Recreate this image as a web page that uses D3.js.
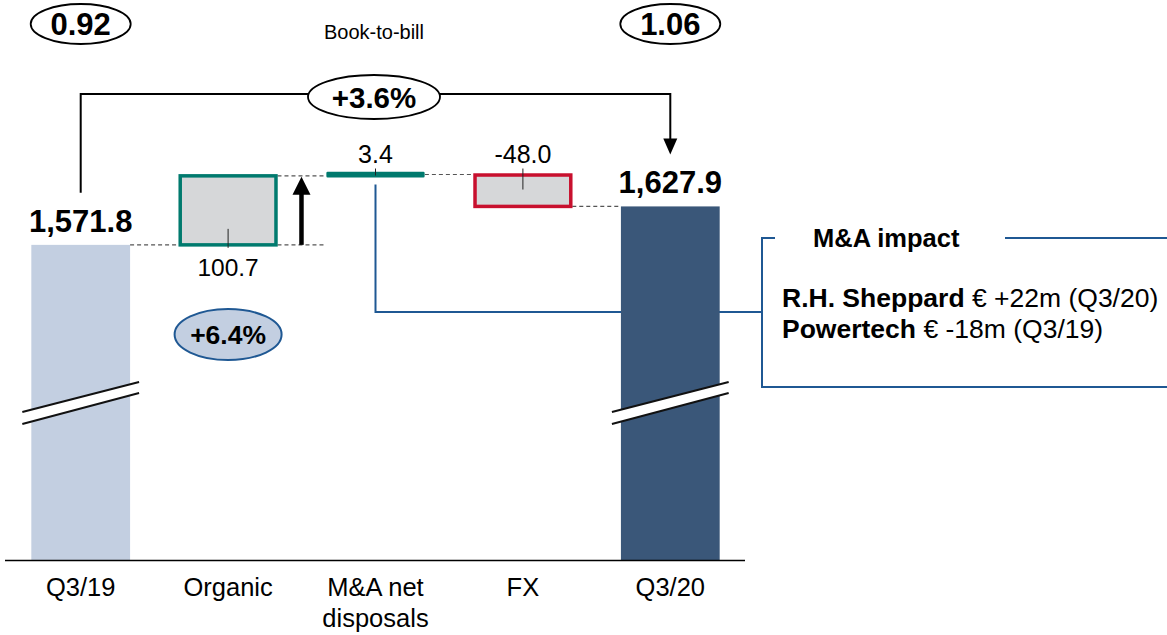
<!DOCTYPE html>
<html>
<head>
<meta charset="utf-8">
<script src="https://cdn.jsdelivr.net/npm/d3@7"></script>
<style>
  html, body { margin: 0; padding: 0; background: #fff; }
  svg { display: block; font-family: "Liberation Sans", Arial, sans-serif; }
</style>
</head>
<body>
<svg id="chart" width="1167" height="635"></svg>
<script>
// Order intake bridge, Q3/19 -> Q3/20 (EUR m)
const categories = ["Q3/19", "Organic", "M&A net|disposals", "FX", "Q3/20"];
const values = [1571.8, 100.7, 3.4, -48.0, 1627.9];
const kinds = ["total", "delta", "delta", "delta", "total"];
const bookToBill = [0.92, 1.06];
const totalGrowth = "+3.6%";
const organicGrowth = "+6.4%";
const maItems = [
  { name: "R.H. Sheppard", amount: "€ +22m (Q3/20)" },
  { name: "Powertech", amount: "€ -18m (Q3/19)" }
];

const svg = d3.select("#chart");

const x = d3.scaleBand().domain(categories).range([7, 744]).paddingInner(0.33).paddingOuter(0.165);
const y = d3.scaleLinear().domain([1112, 1700]).range([560, 157]);
const bw = x.bandwidth();
const cx = c => x(c) + bw / 2;

// running totals for the floating steps
let run = 0;
const steps = categories.map((c, i) => {
  let lo, hi;
  if (kinds[i] === "total") { lo = y.domain()[0]; hi = values[i]; run = values[i]; }
  else { const prev = run; run += values[i]; lo = Math.min(prev, run); hi = Math.max(prev, run); }
  return { c, v: values[i], kind: kinds[i], lo, hi, end: run, i };
});

const locale = d3.formatLocale({ decimal: ".", thousands: ",", grouping: [3], currency: ["€", ""], minus: "-" });
const fmt = locale.format(",.1f");
const teal = "#007a6e", red = "#c8102e", navy = "#1f5893";

// M&A connector line (runs behind the Q3/20 bar into the side box)
const maX = cx(categories[2]);
svg.append("path")
  .attr("d", `M${maX},${y(steps[2].hi) + 11} V312 H762`)
  .attr("fill", "none").attr("stroke", navy).attr("stroke-width", 2);

// M&A impact box
svg.append("path")
  .attr("d", "M775,238 H762 V387 H1167")
  .attr("fill", "none").attr("stroke", navy).attr("stroke-width", 2);
svg.append("path")
  .attr("d", "M1005,238 H1167")
  .attr("fill", "none").attr("stroke", navy).attr("stroke-width", 2);
svg.append("text").attr("x", 813).attr("y", 247)
  .attr("font-size", 25.5).attr("font-weight", "bold").text("M&A impact");
maItems.forEach((d, i) => {
  const t = svg.append("text").attr("x", 782).attr("y", 307 + i * 31).attr("font-size", 26.5);
  t.append("tspan").attr("font-weight", "bold").text(d.name + " ");
  t.append("tspan").text(d.amount);
});

// total bars
const totalColors = ["#c3cfe1", "#3a5779"];
steps.filter(s => s.kind === "total").forEach((s, k) => {
  svg.append("rect")
    .attr("x", x(s.c)).attr("y", y(s.hi))
    .attr("width", bw).attr("height", y(s.lo) - y(s.hi))
    .attr("fill", totalColors[k]);
  svg.append("text").attr("x", cx(s.c)).attr("y", y(s.hi) - 13)
    .attr("text-anchor", "middle").attr("font-size", 31).attr("font-weight", "bold")
    .text(fmt(s.v));
  // axis break marks
  const x0 = x(s.c) - 9, x1 = x(s.c) + bw + 9;
  svg.append("path")
    .attr("d", `M${x0},412 L${x1},382 L${x1},393 L${x0},424 Z`)
    .attr("fill", "#fff");
  svg.append("path")
    .attr("d", `M${x0},412 L${x1},382 M${x0},424 L${x1},393`)
    .attr("stroke", "#111").attr("stroke-width", 2).attr("fill", "none");
});

// dashed connectors between steps
const dash = (x1, x2, yy) => svg.append("line")
  .attr("x1", x1).attr("x2", x2).attr("y1", yy).attr("y2", yy)
  .attr("stroke", "#555").attr("stroke-width", 1.2).attr("stroke-dasharray", "4,3");
dash(x(categories[0]) + bw, x(categories[1]), y(values[0]));
dash(x(categories[1]) + bw, x(categories[2]), y(values[0]));
dash(x(categories[1]) + bw, x(categories[2]), y(steps[1].end));
dash(x(categories[2]) + bw, x(categories[3]), y(steps[2].end) + 1);
dash(x(categories[3]) + bw, x(categories[4]), y(steps[3].end));

// organic step
const so = steps[1];
svg.append("rect")
  .attr("x", x(so.c) + 1.5).attr("y", y(so.hi))
  .attr("width", bw - 3).attr("height", y(so.lo) - y(so.hi))
  .attr("fill", "#d6d7d9").attr("stroke", teal).attr("stroke-width", 3.5);
svg.append("line").attr("x1", cx(so.c)).attr("x2", cx(so.c))
  .attr("y1", y(so.lo) - 16).attr("y2", y(so.lo) + 3).attr("stroke", "#222").attr("stroke-width", 1);
svg.append("text").attr("x", cx(so.c)).attr("y", y(so.lo) + 31)
  .attr("text-anchor", "middle").attr("font-size", 24.5).text(fmt(so.v));

// growth arrow beside organic step
const ax = x(so.c) + bw + 24;
svg.append("line").attr("x1", ax).attr("x2", ax)
  .attr("y1", y(so.lo)).attr("y2", y(so.hi) + 16)
  .attr("stroke", "#000").attr("stroke-width", 4.5);
svg.append("path")
  .attr("d", `M${ax - 9},${y(so.hi) + 19} L${ax},${y(so.hi) + 1} L${ax + 9},${y(so.hi) + 19} Z`)
  .attr("fill", "#000");

// organic growth bubble
svg.append("ellipse").attr("cx", cx(so.c)).attr("cy", 334.5).attr("rx", 53.5).attr("ry", 25.5)
  .attr("fill", "#c3cfe1").attr("stroke", navy).attr("stroke-width", 2);
svg.append("text").attr("x", cx(so.c)).attr("y", 344)
  .attr("text-anchor", "middle").attr("font-size", 26.5).attr("font-weight", "bold").text(organicGrowth);

// M&A step (thin bar)
const sm = steps[2];
svg.append("rect")
  .attr("x", x(sm.c) + 1.5).attr("y", y(sm.hi) - 0.5)
  .attr("width", bw - 3).attr("height", Math.max(y(sm.lo) - y(sm.hi), 2) + 1)
  .attr("fill", teal).attr("stroke", teal).attr("stroke-width", 2.5).attr("stroke-linejoin", "round");
svg.append("line").attr("x1", cx(sm.c)).attr("x2", cx(sm.c))
  .attr("y1", y(sm.hi) - 5).attr("y2", y(sm.hi) + 2).attr("stroke", "#222").attr("stroke-width", 1);
svg.append("text").attr("x", cx(sm.c)).attr("y", y(sm.hi) - 11)
  .attr("text-anchor", "middle").attr("font-size", 25).text(fmt(sm.v));

// FX step
const sf = steps[3];
svg.append("rect")
  .attr("x", x(sf.c) + 1.5).attr("y", y(sf.hi) + 1.5)
  .attr("width", bw - 3).attr("height", y(sf.lo) - y(sf.hi) - 1.5)
  .attr("fill", "#d6d7d9").attr("stroke", red).attr("stroke-width", 3.5);
svg.append("line").attr("x1", cx(sf.c)).attr("x2", cx(sf.c))
  .attr("y1", y(sf.hi) - 5).attr("y2", y(sf.hi) + 16).attr("stroke", "#222").attr("stroke-width", 1);
svg.append("text").attr("x", cx(sf.c)).attr("y", y(sf.hi) - 11)
  .attr("text-anchor", "middle").attr("font-size", 25).text(fmt(sf.v));

// x axis
svg.append("line").attr("x1", 5).attr("x2", 745).attr("y1", 560.5).attr("y2", 560.5)
  .attr("stroke", "#000").attr("stroke-width", 1.5);
categories.forEach(c => {
  const t = svg.append("text").attr("x", cx(c)).attr("y", 596)
    .attr("text-anchor", "middle").attr("font-size", 25.5);
  c.split("|").forEach((line, i) => {
    t.append("tspan").attr("x", cx(c)).attr("dy", i ? 31 : 0).text(line);
  });
});

// total growth bracket
const xa = cx(categories[0]), xb = cx(categories[4]);
svg.append("path")
  .attr("d", `M${xa},${y(values[0]) - 52} V94 H${xb} V${y(values[4]) - 62}`)
  .attr("fill", "none").attr("stroke", "#000").attr("stroke-width", 2);
svg.append("path")
  .attr("d", `M${xb - 7},${y(values[4]) - 68} L${xb},${y(values[4]) - 52} L${xb + 7},${y(values[4]) - 68} Z`)
  .attr("fill", "#000");
svg.append("ellipse").attr("cx", 374).attr("cy", 97).attr("rx", 66).attr("ry", 22)
  .attr("fill", "#fff").attr("stroke", "#000").attr("stroke-width", 1.8);
svg.append("text").attr("x", 374).attr("y", 108)
  .attr("text-anchor", "middle").attr("font-size", 29.5).attr("font-weight", "bold").text(totalGrowth);

// book-to-bill
[0, 4].forEach((ci, k) => {
  const c = cx(categories[ci]);
  svg.append("ellipse").attr("cx", c).attr("cy", 24).attr("rx", 50).attr("ry", 20)
    .attr("fill", "#fff").attr("stroke", "#000").attr("stroke-width", 1.8);
  svg.append("text").attr("x", c).attr("y", 35)
    .attr("text-anchor", "middle").attr("font-size", 31).attr("font-weight", "bold")
    .text(d3.format(".2f")(bookToBill[k]));
});
svg.append("text").attr("x", 374).attr("y", 39)
  .attr("text-anchor", "middle").attr("font-size", 20).text("Book-to-bill");
</script>
</body>
</html>
